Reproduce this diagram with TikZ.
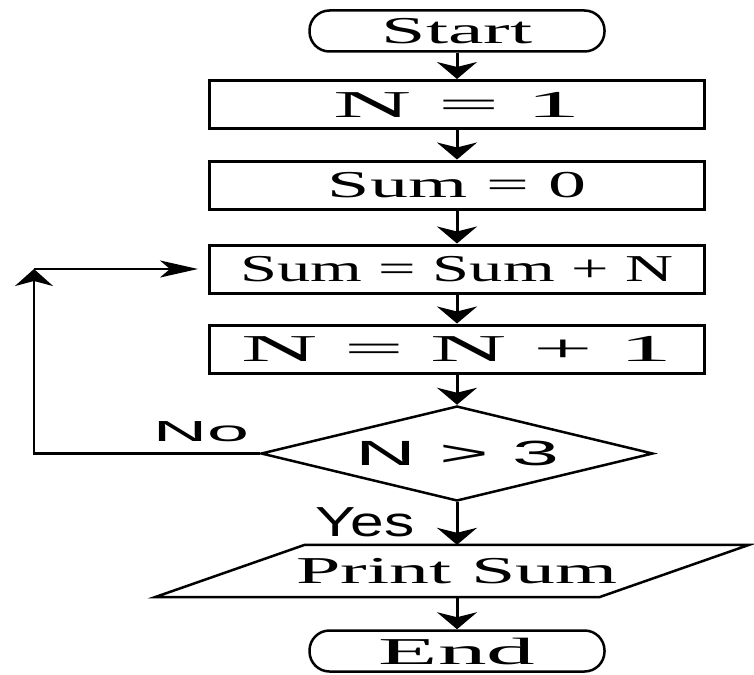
\documentclass[tikz,border=0pt]{standalone}
\usepackage{fontspec}
\setmainfont{Liberation Serif}
\newfontfamily\labelsans{Liberation Sans}
\usepackage{graphicx}
\usetikzlibrary{positioning,shapes.geometric,arrows.meta}
\newcommand{\wide}[2]{\scalebox{#1}[1]{#2}}

\begin{document}
\begin{tikzpicture}[x=1pt, y=-1pt,
    every node/.style={inner sep=0pt, font=\fontsize{38}{44}\selectfont},
    term/.style={draw, line width=2.5pt, rounded corners=20pt, minimum width=295pt, minimum height=41pt},
    proc/.style={draw, line width=3pt, minimum width=495pt, minimum height=48pt},
    test/.style={draw, diamond, aspect=4.1, line width=2.5pt, minimum width=392pt, minimum height=95pt, font=\labelsans\fontsize{35}{40}\selectfont},
    flow/.style={-{Stealth[length=17pt, width=40pt, inset=5pt]}, line width=3pt},
    back/.style={line width=2.5pt}]
        \useasboundingbox (0,0) rectangle (754,674);
        \node[term] (start) at (457,31) {\wide{2.1}{Start}};
        \node[proc] (init) at (457,104.5) {\wide{2.85}{N = 1}};
        \node[proc] (zero) at (457,185) {\wide{2.0}{Sum = 0}};
        \node[proc] (add) at (457,269) {\wide{1.75}{Sum = Sum + N}};
        \node[proc] (incr) at (457,349) {\wide{2.78}{N = N + 1}};
        \node[test] (check) at (457,453.5) {\wide{2.41}{N > 3}};
        \node[minimum width=444pt, minimum height=52pt] (print) at (457,571) {\wide{2.1}{Print Sum}};
        \draw[line width=2.5pt] ([xshift=70pt]print.north west) -- ([xshift=70pt]print.north east)
            -- ([xshift=-80pt]print.south east) -- ([xshift=-80pt]print.south west) -- cycle;
        \node[term] (stop) at (457,651) {\wide{2.56}{End}};
        \node[font=\labelsans\fontsize{29}{34}\selectfont] (no) at (201,432) {\wide{2.6}{No}};
        \node[font=\labelsans\fontsize{42}{48}\selectfont] (yes) at (365,522) {\wide{1.44}{Yes}};
        \coordinate (corner) at (34,269);
        \draw[flow] (start) -- (init);
        \draw[flow] (init) -- (zero);
        \draw[flow] (zero) -- (add);
        \draw[flow] (add) -- (incr);
        \draw[flow] (incr) -- (check);
        \draw[flow] (check) -- (print.north);
        \draw[flow] (print.south) -- (stop);
        \draw[back, -{Stealth[length=17pt, width=38pt, inset=5pt]}] (check.west) -| (corner);
        \draw[back, -{Stealth[length=38pt, width=17pt, inset=10pt]}, shorten >=10pt] (corner) -- (add.west);
    \end{tikzpicture}
\end{document}
